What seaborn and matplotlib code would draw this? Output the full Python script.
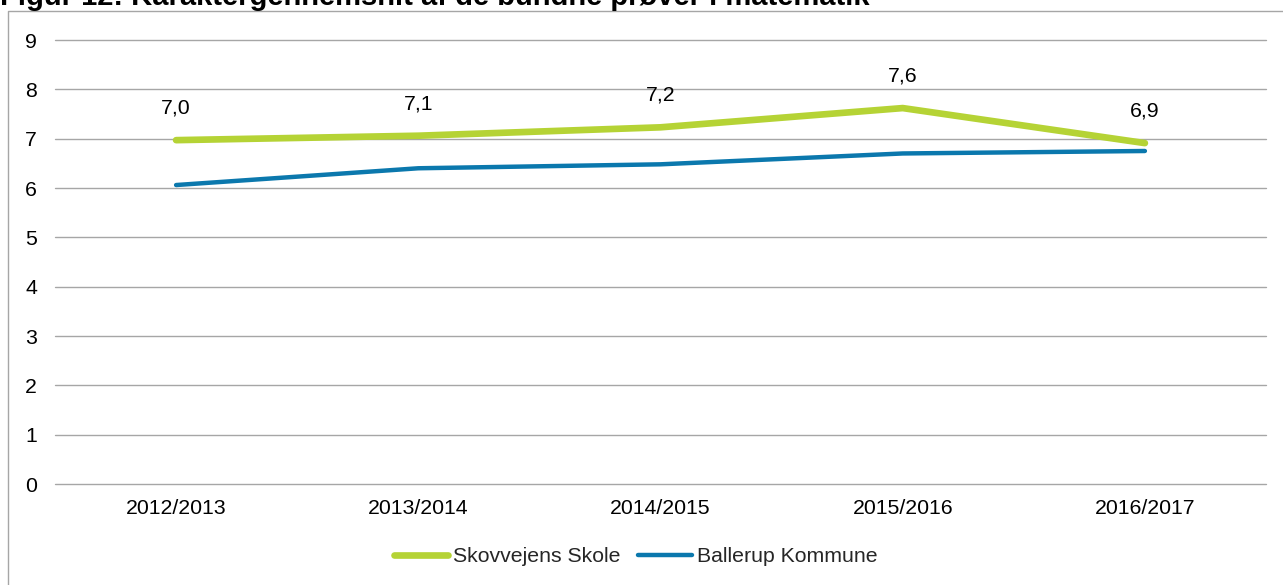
import matplotlib
matplotlib.use("Agg")
import matplotlib.pyplot as plt
from matplotlib.lines import Line2D
import seaborn as sns
import pandas as pd

years = ["2012/2013", "2013/2014", "2014/2015", "2015/2016", "2016/2017"]
skole = [6.97, 7.06, 7.23, 7.62, 6.91]
kommune = [6.06, 6.40, 6.48, 6.70, 6.75]
skole_labels = ["7,0", "7,1", "7,2", "7,6", "6,9"]
series_names = ["Skovvejens Skole", "Ballerup Kommune"]
title = "Figur 12: Karaktergennemsnit af de bundne prøver i matematik"

sns.set_theme(style="white")
plt.rcParams["font.family"] = ["Liberation Sans", "DejaVu Sans"]

df = pd.DataFrame({
    "year": years * 2,
    "value": skole + kommune,
    "series": [series_names[0]] * len(years) + [series_names[1]] * len(years),
})

W, H = 1283, 585
FS = 15.3
fig = plt.figure(figsize=(W / 100, H / 100), dpi=100)
ax = fig.add_axes([55 / W, 101 / H, (1266 - 55) / W, 444 / H])

green = "#B5D335"
blue = "#0B78AD"
palette = {series_names[0]: green, series_names[1]: blue}
sizes = {series_names[0]: 4.8, series_names[1]: 3.2}

sns.lineplot(data=df, x="year", y="value", hue="series", size="series",
             palette=palette, sizes=sizes, sort=False, legend=False, ax=ax,
             solid_capstyle="round")

ax.set_xlim(-0.5, len(years) - 0.5)
ax.set_ylim(0, 9)
ax.set_yticks(range(0, 10))
ax.set_xlabel("")
ax.set_ylabel("")
for s in ax.spines.values():
    s.set_visible(False)
ax.grid(axis="y", color="#A6A6A6", linewidth=1.0)
ax.grid(axis="x", visible=False)
for gl in ax.get_ygridlines():
    gl.set_clip_on(False)
ax.set_axisbelow(True)
ax.tick_params(axis="both", length=0, labelsize=FS, colors="black")
ax.tick_params(axis="y", pad=13)
ax.tick_params(axis="x", pad=11)

for i, (v, lab) in enumerate(zip(skole, skole_labels)):
    ax.annotate(lab, (i, v), xytext=(0, 23), textcoords="offset points",
                ha="center", va="center", fontsize=FS, color="black")

handles = [Line2D([0], [0], color=green, lw=4.8, solid_capstyle="round"),
           Line2D([0], [0], color=blue, lw=3.2, solid_capstyle="round")]
fig.legend(handles, series_names, loc="center", bbox_to_anchor=(636 / W, 1 - 557 / H),
           ncol=2, frameon=False, fontsize=FS, handlelength=2.5,
           handletextpad=0.25, columnspacing=0.85)

# frame
fig.add_artist(Line2D([8 / W, 8 / W, 1.0], [0, 1 - 11 / H, 1 - 11 / H],
                      transform=fig.transFigure, color="#A6A6A6", lw=1.0))

fig.text(0.0, 1 - 5 / H, title, ha="left", va="baseline",
         fontsize=21, fontweight="bold", color="black")

fig.savefig("out.png", dpi=100)
